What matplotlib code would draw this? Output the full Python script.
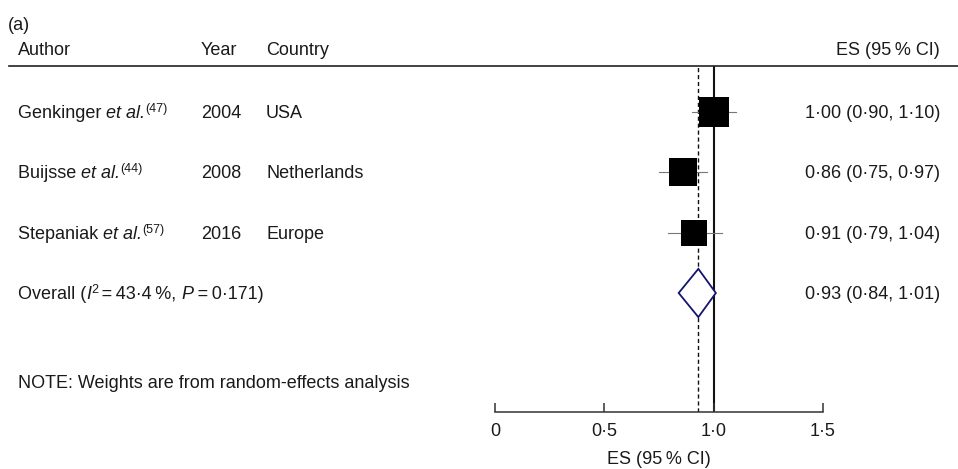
import matplotlib
matplotlib.use("Agg")
import matplotlib.pyplot as plt
import matplotlib.transforms as mtransforms
from matplotlib.lines import Line2D

# ---------------- data ----------------
authors = ["Genkinger", "Buijsse", "Stepaniak"]
refs = ["47", "44", "57"]
years = ["2004", "2008", "2016"]
countries = ["USA", "Netherlands", "Europe"]
es = [1.00, 0.86, 0.91]
ci_lo = [0.90, 0.75, 0.79]
ci_hi = [1.10, 0.97, 1.04]
weights = [36.9, 34.5, 28.6]
overall_es = 0.93
overall_lo = 0.84
overall_hi = 1.01
i2_text = "43·4"
p_text = "0·171"
xticks = [0, 0.5, 1.0, 1.5]
xticklabels = ["0", "0·5", "1·0", "1·5"]

# ---------------- style ----------------
plt.rcParams['font.family'] = ['Liberation Sans', 'DejaVu Sans']
FS = 13
SUP = 9
TXT = '#1a1a1a'

W, H = 958, 469
fig = plt.figure(figsize=(W / 100, H / 100), dpi=100)
renderer = fig.canvas.get_renderer()

def fx(px):
    return px / W

def fy(py):
    return 1 - py / H

ax_top, ax_bot = 66, 412
row0_px, row_step = 112, 60.33
ax = fig.add_axes([fx(495), fy(ax_bot), fx(823) - fx(495), (ax_bot - ax_top) / H])
ax.set_xlim(0, 1.5)
ax.set_ylim((ax_bot - row0_px) / row_step, (ax_top - row0_px) / row_step)
for s in ['top', 'left', 'right']:
    ax.spines[s].set_visible(False)
ax.spines['bottom'].set_color('#333333')
ax.spines['bottom'].set_linewidth(1.1)
ax.set_yticks([])
ax.set_xticks(xticks)
ax.set_xticklabels(xticklabels, fontsize=FS, color=TXT)
ax.tick_params(axis='x', direction='in', length=6.5, width=1.1, color='#333333', pad=8)
ax.set_xlabel("ES (95\u2009% CI)", fontsize=FS, color=TXT, labelpad=8)
ax.patch.set_alpha(0)

# reference lines
ax.axvline(1.0, color='#111111', lw=1.5, zorder=1)
ax.axvline(overall_es, color='#111111', lw=1.0, ls=(0, (3, 2)), zorder=1)

rows = list(range(len(authors)))
for r, e, lo, hi, w in zip(rows, es, ci_lo, ci_hi, weights):
    ax.plot([lo, hi], [r, r], color='#777777', lw=0.8, zorder=2)
    ax.plot([e], [r], marker='s', color='black', markeredgewidth=0,
            markersize=3.44 * w ** 0.5, zorder=3)

r_over = len(authors)
dh = 0.40
ax.fill([overall_lo, overall_es, overall_hi, overall_es],
        [r_over, r_over - dh, r_over, r_over + dh],
        facecolor='white', edgecolor='#14146e', lw=1.3, zorder=4)

# text helpers
base = mtransforms.blended_transform_factory(fig.transFigure, ax.transData)

def row_tr(dx_px=0, dy_px=0):
    return base + mtransforms.ScaledTranslation(dx_px / 100, (-6 + dy_px) / 100, fig.dpi_scale_trans)

def rich(x_px, r, pieces):
    """pieces: list of (text, size, style, raise_px)"""
    dx = 0.0
    for txt, size, style, rise in pieces:
        t = fig.text(fx(x_px), r, txt, transform=row_tr(dx, rise), fontsize=size,
                     style=style, color=TXT, va='baseline', ha='left')
        bb = t.get_window_extent(renderer)
        dx += bb.width
    return dx

def fmt(v):
    return f"{v:.2f}".replace('.', '·')

for r in rows:
    rich(18, r, [(authors[r] + " ", FS, 'normal', 0),
                 ("et al.", FS, 'italic', 0),
                 ("(" + refs[r] + ")", SUP, 'normal', 6)])
    fig.text(fx(201), r, years[r], transform=row_tr(), fontsize=FS, color=TXT, va='baseline')
    fig.text(fx(266), r, countries[r], transform=row_tr(), fontsize=FS, color=TXT, va='baseline')
    fig.text(fx(940), r, f"{fmt(es[r])} ({fmt(ci_lo[r])}, {fmt(ci_hi[r])})",
             transform=row_tr(), fontsize=FS, color=TXT, va='baseline', ha='right')

rich(18, r_over, [("Overall (", FS, 'normal', 0),
                  ("I", FS, 'italic', 0),
                  ("2", SUP, 'normal', 6),
                  ("\u2009=\u2009" + i2_text + "\u2009%, ", FS, 'normal', 0),
                  ("P", FS, 'italic', 0),
                  ("\u2009=\u2009" + p_text + ")", FS, 'normal', 0)])
fig.text(fx(940), r_over, f"{fmt(overall_es)} ({fmt(overall_lo)}, {fmt(overall_hi)})",
         transform=row_tr(), fontsize=FS, color=TXT, va='baseline', ha='right')

# header
fig.text(fx(8), fy(30), "(a)", fontsize=FS, color=TXT, va='baseline')
fig.text(fx(18), fy(55), "Author", fontsize=FS, color=TXT, va='baseline')
fig.text(fx(201), fy(55), "Year", fontsize=FS, color=TXT, va='baseline')
fig.text(fx(266), fy(55), "Country", fontsize=FS, color=TXT, va='baseline')
fig.text(fx(940), fy(55), "ES (95\u2009% CI)", fontsize=FS, color=TXT, va='baseline', ha='right')
fig.add_artist(Line2D([fx(9), fx(958)], [fy(66.5), fy(66.5)], transform=fig.transFigure,
                      color='#222222', lw=1.2))

fig.text(fx(18), fy(388), "NOTE: Weights are from random-effects analysis",
         fontsize=FS, color=TXT, va='baseline')

fig.savefig("out.png", dpi=100)
